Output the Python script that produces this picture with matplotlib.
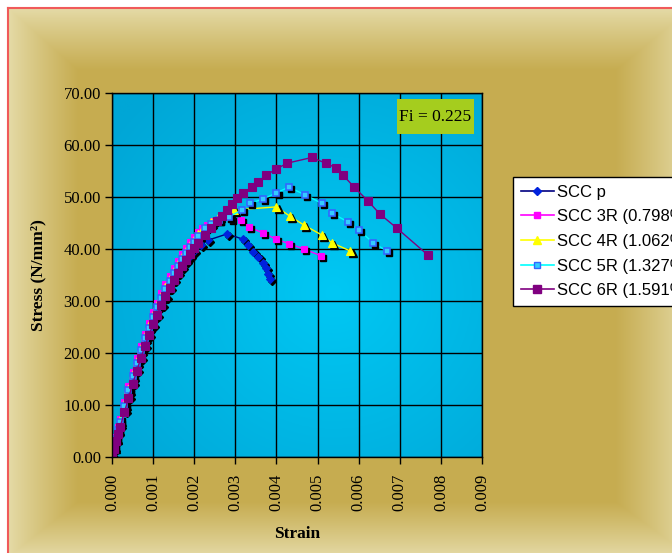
import numpy as np
import matplotlib.pyplot as plt
from matplotlib.lines import Line2D
from matplotlib.patches import Rectangle
from matplotlib.transforms import ScaledTranslation

# ascending branch, shared strain steps
strain_rise = [0, 0.00005, 0.0001, 0.00015, 0.0002, 0.0003, 0.0004, 0.0005, 0.0006,
               0.0007, 0.0008, 0.0009, 0.001, 0.0011, 0.0012, 0.0013, 0.0014,
               0.0015, 0.0016, 0.0017, 0.0018, 0.0019, 0.002]
p_rise = [0, 1.6, 3.2, 4.7, 6.1, 8.9, 11.6, 14.2, 16.7, 19.1, 21.4, 23.5, 25.5,
          27.4, 29.2, 30.9, 32.5, 34.0, 35.4, 36.6, 37.7, 38.7, 39.6]
r3_rise = [0, 2.0, 3.9, 5.7, 7.4, 10.6, 13.6, 16.4, 19.0, 21.4, 23.7, 25.8, 27.8,
           29.7, 31.5, 33.2, 34.8, 36.3, 37.7, 39.0, 40.2, 41.3, 42.3]
r4_rise = [0, 1.9, 3.7, 5.4, 7.1, 10.2, 13.1, 15.9, 18.5, 20.9, 23.2, 25.3, 27.3,
           29.2, 31.0, 32.7, 34.3, 35.8, 37.2, 38.5, 39.7, 40.8, 41.8]
r5_rise = [0, 1.8, 3.5, 5.2, 6.8, 9.9, 12.8, 15.5, 18.1, 20.5, 22.8, 24.9, 26.9,
           28.8, 30.6, 32.3, 33.9, 35.3, 36.7, 38.0, 39.2, 40.3, 41.3]
r6_rise = [0, 1.5, 3.0, 4.5, 5.8, 8.6, 11.3, 14.0, 16.5, 19.0, 21.3, 23.5, 25.5,
           27.4, 29.2, 30.9, 32.5, 34.0, 35.4, 36.7, 37.9, 39.0, 40.1]

# peak + descending branch
p_tail_x = [0.00217, 0.00234, 0.0028, 0.00318, 0.00331, 0.00344, 0.00356, 0.00367,
            0.00374, 0.0038, 0.00384]
p_tail_y = [40.8, 41.7, 42.9, 41.9, 40.8, 39.4, 38.5, 37.3, 36.3, 35.2, 34.2]
r3_tail_x = [0.0021, 0.0022, 0.0023, 0.00245, 0.0026, 0.0029, 0.00314, 0.00333,
             0.00367, 0.00399, 0.00431, 0.00467, 0.00508]
r3_tail_y = [43.2, 44.0, 44.7, 45.4, 45.7, 45.8, 45.6, 44.2, 43.1, 41.9, 41.0, 40.0, 38.7]
r4_tail_x = [0.0021, 0.0022, 0.0024, 0.0026, 0.00297, 0.0040, 0.00433, 0.00467,
             0.0051, 0.00535, 0.0058]
r4_tail_y = [42.8, 43.7, 45.2, 46.3, 47.5, 48.1, 46.3, 44.6, 42.7, 41.2, 39.6]
r5_tail_x = [0.0021, 0.00226, 0.0024, 0.0026, 0.00285, 0.00316, 0.00336, 0.00367,
             0.0040, 0.0043, 0.0047, 0.0051, 0.00535, 0.00574, 0.0060, 0.00635, 0.00669]
r5_tail_y = [42.5, 44.0, 44.9, 45.6, 46.2, 47.5, 48.8, 49.6, 50.8, 51.9, 50.4, 48.8,
             46.9, 45.2, 43.7, 41.2, 39.6]
r6_tail_x = [0.0021, 0.00226, 0.0024, 0.00255, 0.00268, 0.0028, 0.00292, 0.00305,
             0.00319, 0.0034, 0.00355, 0.00375, 0.0040, 0.00426, 0.00486, 0.0052,
             0.00545, 0.00562, 0.00589, 0.00623, 0.00652, 0.00693, 0.00769]
r6_tail_y = [41.2, 42.7, 44.0, 45.3, 46.4, 47.5, 48.7, 49.8, 50.8, 51.9, 52.9, 54.2,
             55.4, 56.5, 57.6, 56.5, 55.6, 54.2, 51.9, 49.2, 46.7, 44.0, 38.8]

labels = ['SCC p', 'SCC 3R (0.798%)', 'SCC 4R (1.062%)', 'SCC 5R (1.327%)', 'SCC 6R (1.591%)']
x_ticks = [0, 0.001, 0.002, 0.003, 0.004, 0.005, 0.006, 0.007, 0.008, 0.009]
y_ticks = [0, 10, 20, 30, 40, 50, 60, 70]

series = [
    (strain_rise + p_tail_x, p_rise + p_tail_y, dict(color='#000080', marker='D', ms=4.5, mfc='#0022dd', mec='#0022dd'), True),
    (strain_rise + r3_tail_x, r3_rise + r3_tail_y, dict(color='#ff00ff', marker='s', ms=5, mfc='#ff00ff', mec='#ff00ff'), True),
    (strain_rise + r4_tail_x, r4_rise + r4_tail_y, dict(color='#ffff00', marker='^', ms=6, mfc='#ffff00', mec='#ffff00'), True),
    (strain_rise + r5_tail_x, r5_rise + r5_tail_y, dict(color='#00ffff', marker='s', ms=5, mfc='#33ccff', mec='#3366ff', mew=1.2), True),
    (strain_rise + r6_tail_x, r6_rise + r6_tail_y, dict(color='#800080', marker='s', ms=5.5, mfc='#800080', mec='#800080'), False),
]

W, H = 672, 553
fig = plt.figure(figsize=(W / 100, H / 100), dpi=100)
fig.patch.set_facecolor('white')

# gold bevel frame behind everything
bg = fig.add_axes([0, 0, 1, 1])
yy, xx = np.mgrid[0:H, 0:W]
x0, y0, x1, y1 = 8, 8, 690, 556
t = np.minimum.reduce([(xx - x0) / 70.0, (x1 - xx) / 75.0, (yy - y0) / 62.0, (y1 - yy) / 55.0])
t = np.clip(t, 0, 1) ** 0.9
light = np.array([229, 219, 168]) / 255.0
gold = np.array([198, 172, 80]) / 255.0
img = light[None, None, :] * (1 - t[..., None]) + gold[None, None, :] * t[..., None]
outside = (xx < x0) | (yy < y0)
img[outside] = 1.0
bg.imshow(img, extent=[0, W, H, 0], aspect='auto', interpolation='bilinear')
bg.plot([x0, x0], [y0, H], color='#f05a5a', lw=1.5)
bg.plot([x0, W], [y0, y0], color='#f05a5a', lw=1.5)
bg.set_xlim(0, W)
bg.set_ylim(H, 0)
bg.axis('off')

ax = fig.add_axes([112 / W, 1 - 457 / H, 370 / W, 364 / H])
ax.patch.set_visible(False)

# blue gradient plot area
gy, gx = np.mgrid[0:1:200j, 0:1:200j]
r = np.sqrt((gx - 0.6) ** 2 + (gy - 0.45) ** 2)
s = np.clip(1 - r / 0.75, 0, 1)
c_dark = np.array([0, 166, 214]) / 255.0
c_lite = np.array([0, 200, 244]) / 255.0
grad = c_dark[None, None, :] * (1 - s[..., None]) + c_lite[None, None, :] * s[..., None]
ax.imshow(grad, extent=[0, 1, 0, 1], transform=ax.transAxes, aspect='auto',
          origin='lower', zorder=0)

shadow = ax.transData + ScaledTranslation(1.6 / 72, -1.6 / 72, fig.dpi_scale_trans)
handles = []
for i, (xs, ys, st, has_shadow) in enumerate(series):
    z = 3 + i
    ax.plot(xs, ys, color=st['color'], lw=1, zorder=z)
    if has_shadow:
        ax.plot(xs, ys, ls='none', marker=st['marker'], ms=st['ms'], mfc='black',
                mec='black', transform=shadow, zorder=z + 0.1)
    ax.plot(xs, ys, ls='none', marker=st['marker'], ms=st['ms'], mfc=st['mfc'],
            mec=st['mec'], mew=st.get('mew', 0.8), zorder=z + 0.2)
    handles.append(Line2D([], [], color=st['color'], lw=1.2, marker=st['marker'],
                          ms=st['ms'], mfc=st['mfc'], mec=st['mec']))

ax.set_xlim(0, 0.009)
ax.set_ylim(0, 70)
ax.set_xticks(x_ticks)
ax.set_yticks(y_ticks)
ax.set_xticklabels(['%.3f' % v for v in x_ticks], rotation=90, fontfamily='Liberation Serif', fontsize=12)
ax.set_yticklabels(['%.2f' % v for v in y_ticks], fontfamily='Liberation Serif', fontsize=12)
ax.tick_params(direction='out', length=5, width=1, colors='black', pad=3)
ax.tick_params(axis='x', pad=7)
ax.grid(True, color='black', lw=1, zorder=1)
ax.set_axisbelow(False)
for sp in ax.spines.values():
    sp.set_linewidth(1)
    sp.set_zorder(10)

ax.set_xlabel('Strain', fontfamily='Liberation Serif', fontweight='bold', fontsize=12.5, labelpad=11)
ax.set_ylabel('Stress (N/mm²)', fontfamily='Liberation Serif', fontweight='bold', fontsize=12.5, labelpad=12)

ax.add_patch(Rectangle((0.770, 0.887), 0.208, 0.097, transform=ax.transAxes,
                       fc='#a5cd1e', ec='none', zorder=11))
ax.text(0.874, 0.933, 'Fi = 0.225', transform=ax.transAxes, ha='center', va='center',
        fontfamily='Liberation Serif', fontsize=12.5, zorder=12)

leg = fig.legend(handles, labels, loc='upper left', bbox_to_anchor=(513 / W, 1 - 177 / H),
                 prop={'family': 'Liberation Sans', 'size': 12}, frameon=True, fancybox=False,
                 edgecolor='black', facecolor='white', framealpha=1, numpoints=1,
                 handlelength=2.0, labelspacing=0.58, borderpad=0.45, handletextpad=0.2,
                 borderaxespad=0)
leg.get_frame().set_linewidth(1)

fig.savefig('out.png', dpi=100)
